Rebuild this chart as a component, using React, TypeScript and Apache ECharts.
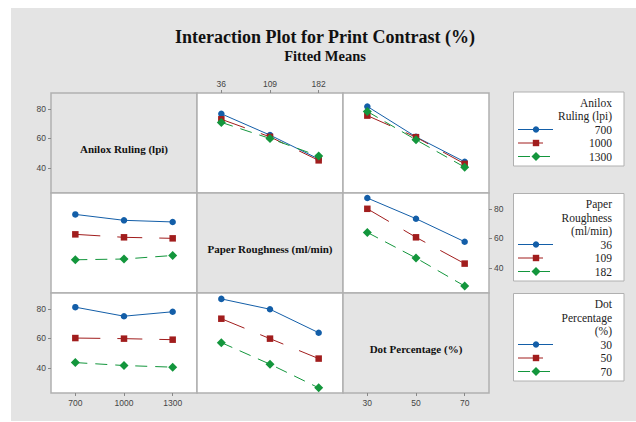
import React, { useEffect, useRef } from "react";
import * as echarts from "echarts";

// Factor levels
const ANILOX = ["700", "1000", "1300"];
const PAPER = ["36", "109", "182"];
const DOT = ["30", "50", "70"];

// Fitted means, one array per trace level, ordered along the x-axis factor
// Anilox ruling traces vs paper roughness
const aniloxByPaper700 = [76.6, 62.2, 46.0];
const aniloxByPaper1000 = [72.9, 61.0, 45.1];
const aniloxByPaper1300 = [70.8, 59.9, 48.0];
// Anilox ruling traces vs dot percentage
const aniloxByDot700 = [81.6, 61.0, 44.1];
const aniloxByDot1000 = [75.4, 60.8, 42.7];
const aniloxByDot1300 = [78.2, 59.0, 40.5];
// Paper roughness traces vs anilox ruling
const paperByAnilox36 = [76.2, 72.2, 71.1];
const paperByAnilox109 = [62.7, 60.7, 60.0];
const paperByAnilox182 = [45.5, 46.0, 48.4];
// Paper roughness traces vs dot percentage
const paperByDot36 = [87.3, 73.3, 57.7];
const paperByDot109 = [80.0, 60.7, 42.9];
const paperByDot182 = [64.0, 46.7, 27.7];
// Dot percentage traces vs anilox ruling
const dotByAnilox30 = [81.1, 75.0, 78.0];
const dotByAnilox50 = [60.2, 59.8, 59.1];
const dotByAnilox70 = [43.6, 41.6, 40.5];
// Dot percentage traces vs paper roughness
const dotByPaper30 = [86.7, 79.7, 63.8];
const dotByPaper50 = [73.3, 59.8, 46.3];
const dotByPaper70 = [57.1, 42.5, 26.5];

const Y_TICKS = [40, 60, 80];

const FACTOR_NAMES = ["Anilox Ruling (lpi)", "Paper Roughness (ml/min)", "Dot Percentage (%)"];
const LEGEND_TITLES = [["Anilox", "Ruling (lpi)"], ["Paper", "Roughness", "(ml/min)"], ["Dot", "Percentage", "(%)"]];
const LEVELS = [ANILOX, PAPER, DOT];

// panel table: [row][col] -> traces (null on the diagonal)
const PANELS: (number[][] | null)[][] = [
  [null, [aniloxByPaper700, aniloxByPaper1000, aniloxByPaper1300], [aniloxByDot700, aniloxByDot1000, aniloxByDot1300]],
  [[paperByAnilox36, paperByAnilox109, paperByAnilox182], null, [paperByDot36, paperByDot109, paperByDot182]],
  [[dotByAnilox30, dotByAnilox50, dotByAnilox70], [dotByPaper30, dotByPaper50, dotByPaper70], null],
];

const COLORS = ["#135ea8", "#a11d1d", "#13963c"];
const SYMBOLS = ["circle", "rect", "diamond"];
const SYMBOL_SIZES = [6.5, 6.5, 9];
const DASHES: any[] = ["solid", [25, 17], [12, 8]];

const COL_LEFT = [51, 197, 343];
const ROW_TOP = [93, 193, 293];
const CELL_W = 146;
const CELL_H = 100;
const BG = "#e4e4e4";
const SERIF = "'Liberation Serif', 'Times New Roman', serif";
const SANS = "'Liberation Sans', Arial, sans-serif";

function buildOption() {
  const grid: any[] = [];
  const xAxis: any[] = [];
  const yAxis: any[] = [];
  const series: any[] = [];
  const graphic: any[] = [];

  graphic.push({
    type: "rect",
    z: -100,
    silent: true,
    shape: { x: 11, y: 8, width: 625, height: 413 },
    style: { fill: BG },
  });

  graphic.push({
    type: "text",
    x: 325,
    y: 37,
    style: {
      text: "Interaction Plot for Print Contrast (%)",
      font: `bold 18px ${SERIF}`,
      fill: "#111",
      align: "center",
      verticalAlign: "middle",
    },
  });
  graphic.push({
    type: "text",
    x: 325,
    y: 56,
    style: {
      text: "Fitted Means",
      font: `bold 14.5px ${SERIF}`,
      fill: "#111",
      align: "center",
      verticalAlign: "middle",
    },
  });

  for (let r = 0; r < 3; r++) {
    for (let c = 0; c < 3; c++) {
      const g = r * 3 + c;
      const diag = r === c;
      grid.push({
        left: COL_LEFT[c],
        top: ROW_TOP[r],
        width: CELL_W,
        height: CELL_H,
        show: true,
        backgroundColor: diag ? BG : "#ffffff",
        borderColor: "#b0b0b0",
        borderWidth: 1.5,
      });

      const xTop = r === 0 && c === 1;
      const xShow = xTop || (r === 2 && c !== 1);
      xAxis.push({
        type: "category",
        gridIndex: g,
        data: LEVELS[c],
        boundaryGap: true,
        position: xTop ? "top" : "bottom",
        axisLine: { show: false },
        axisTick: { show: xShow, alignWithLabel: true, length: 3, lineStyle: { color: "#888" } },
        axisLabel: { show: xShow, fontSize: 8.5, fontFamily: SANS, color: "#444", margin: 5 },
        splitLine: { show: false },
      });

      const yRight = r === 1 && c === 2;
      const yShow = yRight || (c === 0 && r !== 1);
      yAxis.push({
        type: "value",
        gridIndex: g,
        min: 23,
        max: 90.7,
        position: yRight ? "right" : "left",
        axisLine: { show: false },
        axisTick: { show: yShow, length: 3, customValues: Y_TICKS, lineStyle: { color: "#888" } },
        axisLabel: { show: yShow, fontSize: 8.5, fontFamily: SANS, color: "#444", margin: 5, customValues: Y_TICKS },
        splitLine: { show: false },
      });

      const traces = PANELS[r][c];
      if (diag) {
        graphic.push({
          type: "text",
          x: COL_LEFT[c] + CELL_W / 2,
          y: ROW_TOP[r] + CELL_H / 2 + 6,
          style: {
            text: FACTOR_NAMES[r],
            font: `bold 11px ${SERIF}`,
            fill: "#111",
            align: "center",
            verticalAlign: "middle",
          },
        });
      } else if (traces) {
        traces.forEach((vals, k) => {
          series.push({
            type: "line",
            name: `${FACTOR_NAMES[r]} ${LEVELS[r][k]}`,
            xAxisIndex: g,
            yAxisIndex: g,
            data: vals,
            symbol: SYMBOLS[k],
            symbolSize: SYMBOL_SIZES[k],
            showSymbol: true,
            itemStyle: { color: COLORS[k] },
            lineStyle: { color: COLORS[k], width: 1, type: DASHES[k] },
            z: 2 + k,
          });
        });
      }
    }
  }

  // legend boxes, one per trace factor
  const boxTops = [92, 193.5, 293.5];
  LEGEND_TITLES.forEach((titleLines, b) => {
    const top = boxTops[b];
    const lines = [...titleLines, ...LEVELS[b]];
    const lineH = 13.5;
    const height = 10.5 + (lines.length - 1) * lineH + 9.5;
    graphic.push({
      type: "rect",
      shape: { x: 513.5, y: top, width: 110.5, height },
      style: { fill: "#ffffff", stroke: "#b0b0b0", lineWidth: 1 },
    });
    lines.forEach((t, i) => {
      const cy = top + 10.5 + i * lineH;
      graphic.push({
        type: "text",
        x: 612,
        y: cy,
        style: { text: t, font: `11.5px ${SERIF}`, fill: "#222", align: "right", verticalAlign: "middle" },
      });
      const k = i - titleLines.length;
      if (k >= 0) {
        graphic.push({
          type: "line",
          shape: { x1: 518, y1: cy, x2: 553, y2: cy },
          style: {
            stroke: COLORS[k],
            lineWidth: 1,
            lineDash: k === 0 ? null : DASHES[k],
          },
        });
        const mx = 536;
        if (k === 0) {
          graphic.push({ type: "circle", shape: { cx: mx, cy, r: 3.2 }, style: { fill: COLORS[k] } });
        } else if (k === 1) {
          graphic.push({ type: "rect", shape: { x: mx - 3.2, y: cy - 3.2, width: 6.4, height: 6.4 }, style: { fill: COLORS[k] } });
        } else {
          graphic.push({
            type: "polygon",
            shape: { points: [[mx, cy - 4.5], [mx + 4.5, cy], [mx, cy + 4.5], [mx - 4.5, cy]] },
            style: { fill: COLORS[k] },
          });
        }
      }
    });
  });

  return {
    animation: false,
    backgroundColor: "#ffffff",
    grid,
    xAxis,
    yAxis,
    series,
    graphic,
  };
}

export default function App() {
  const ref = useRef<HTMLDivElement>(null);
  useEffect(() => {
    if (!ref.current) return;
    const chart = echarts.init(ref.current, null, { renderer: "svg" });
    chart.setOption(buildOption() as any);
    return () => chart.dispose();
  }, []);
  return (
    <div
      ref={ref}
      style={{ position: "fixed", left: 0, top: 0, width: 636, height: 422 }}
    />
  );
}
